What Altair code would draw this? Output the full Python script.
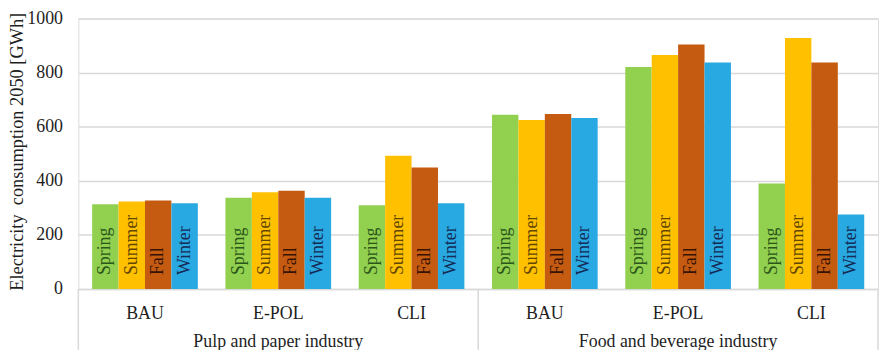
import altair as alt
import pandas as pd

industries = ["Pulp and paper industry", "Food and beverage industry"]
scenarios = ["BAU", "E-POL", "CLI"]
seasons = ["Spring", "Summer", "Fall", "Winter"]

# Electricity consumption 2050 [GWh], order: Spring, Summer, Fall, Winter
pulp_bau = [313, 323, 327, 317]
pulp_epol = [337, 358, 363, 337]
pulp_cli = [310, 493, 449, 317]
food_bau = [644, 625, 647, 632]
food_epol = [821, 865, 904, 837]
food_cli = [390, 928, 837, 275]

y_ticks = [0, 200, 400, 600, 800, 1000]

bar_colors = ["#92D050", "#FFC000", "#C55A11", "#29A9E1"]
text_colors = ["#2A561A", "#634600", "#361305", "#142B57"]

blocks = {
    industries[0]: [pulp_bau, pulp_epol, pulp_cli],
    industries[1]: [food_bau, food_epol, food_cli],
}

rows = []
for ind in industries:
    for scen, vals in zip(scenarios, blocks[ind]):
        for s, v in zip(seasons, vals):
            rows.append({"group": f"{ind}|{scen}", "industry": ind,
                         "scenario": scen, "season": s, "value": v})
df = pd.DataFrame(rows)

groups = [f"{i}|{s}" for i in industries for s in scenarios]
ind_df = pd.DataFrame({"group": [f"{i}|{scenarios[1]}" for i in industries],
                       "label": industries})

W, H = 807, 273
FONT = "Liberation Serif"
GRID = "#D9D9D9"
TXT = "#1E1E1E"

x_scale = alt.Scale(domain=groups, paddingInner=0.207, paddingOuter=0.1035)
xoff = alt.XOffset("season:N", sort=seasons,
                   scale=alt.Scale(domain=seasons, paddingInner=0, paddingOuter=0))

bars = alt.Chart(df).mark_bar().encode(
    x=alt.X("group:N", scale=x_scale, sort=groups, title=None,
            axis=alt.Axis(labelExpr="split(datum.label, '|')[1]", labelAngle=0,
                          labelFont=FONT, labelFontSize=18, labelColor=TXT,
                          labelBaseline="middle", labelPadding=25,
                          ticks=False, domain=True, domainColor=GRID,
                          domainWidth=1.5, grid=False)),
    xOffset=xoff,
    y=alt.Y("value:Q", scale=alt.Scale(domain=[0, 1000], nice=False),
            title="Electricity\u00a0 consumption 2050 [GWh]",
            axis=alt.Axis(values=y_ticks, format="d", domain=False, ticks=False,
                          grid=True, gridColor=GRID, gridWidth=1.5,
                          labelFont=FONT, labelFontSize=18, labelColor=TXT,
                          labelPadding=16,
                          titleFont=FONT, titleFontSize=18.5, titleFontWeight="normal",
                          titleColor=TXT, titleAngle=270, titleAlign="center",
                          titleBaseline="alphabetic", titleX=-56, titleY=134)),
    color=alt.Color("season:N", sort=seasons,
                    scale=alt.Scale(domain=seasons, range=bar_colors), legend=None),
)

labels = alt.Chart(df).mark_text(angle=270, align="left", baseline="middle",
                                 dx=14, font=FONT, fontSize=18).encode(
    x=alt.X("group:N", scale=x_scale, sort=groups),
    xOffset=xoff,
    y=alt.datum(0),
    text="season:N",
    color=alt.Color("season:N", sort=seasons,
                    scale=alt.Scale(domain=seasons, range=text_colors), legend=None),
)

ind_labels = alt.Chart(ind_df).mark_text(font=FONT, fontSize=18, color=TXT,
                                         baseline="middle").encode(
    x=alt.X("group:N", scale=x_scale, sort=groups),
    y=alt.value(H + 54),
    text="label:N",
)

dummy = pd.DataFrame({"a": [0]})
seps = [
    alt.Chart(dummy).mark_rule(color=GRID, strokeWidth=1.5).encode(
        x=alt.value(px), y=alt.value(H), y2=alt.value(H + 70))
    for px in (0, W / 2, W)
]

chart = alt.layer(bars, labels, ind_labels, *seps).resolve_scale(
    color="independent"
).properties(
    width=W, height=H,
    autosize=alt.AutoSizeParams(type="none"),
    padding={"left": 71, "top": 9, "right": 3, "bottom": 60},
    background="white",
).configure_view(stroke=None).configure(font=FONT)

chart.save("out.html", embed_options={"renderer": "svg", "actions": False})
